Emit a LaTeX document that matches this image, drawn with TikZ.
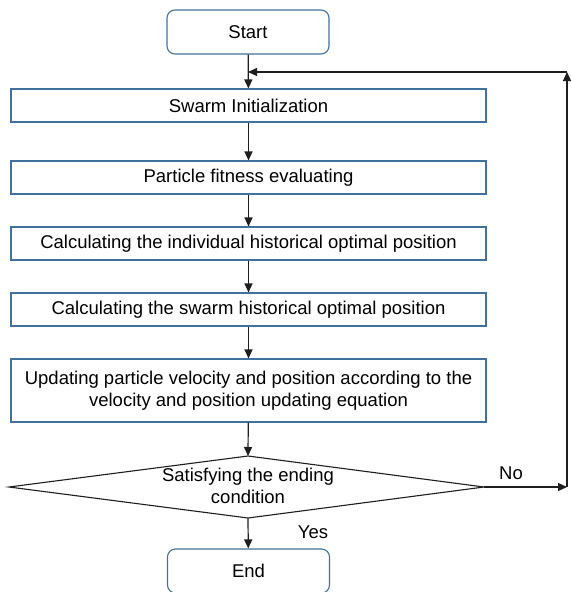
\documentclass[tikz,border=0pt]{standalone}
\usepackage{fontspec}
\setmainfont{Liberation Sans}
\usepackage{tikz}
\usetikzlibrary{shapes.geometric}
\usetikzlibrary{positioning, arrows.meta}
\definecolor{boxline}{RGB}{65,113,156}
\definecolor{flowline}{RGB}{30,30,30}
\tikzset{
  stepbox/.style={draw=boxline, line width=1.1pt, minimum width=475pt, minimum height=33pt,
    inner sep=0pt, align=center, font=\fontsize{18.5}{21.5}\selectfont},
  endbox/.style={stepbox, rounded corners=8pt, minimum width=162pt, minimum height=44pt},
  testtext/.style={inner sep=0pt, align=center, font=\fontsize{18.5}{22}\selectfont},
  flow/.style={draw=flowline, line width=1.2pt, -{Triangle[length=9pt,width=8pt]}}}

\begin{document}
\begin{tikzpicture}[x=1pt, y=-1pt]
\useasboundingbox (0,0) rectangle (572,592);
	\node[endbox] (start) at (248,32) {Start};
	\node[stepbox] (init) at (248.5,105.5) {Swarm Initialization};
	\node[stepbox] (fit) at (248.5,177.5) {Particle fitness evaluating};
	\node[stepbox] (pbest) at (248.5,243.5) {Calculating the individual historical optimal position};
	\node[stepbox] (gbest) at (248.5,309.5) {Calculating the swarm historical optimal position};
	\node[stepbox, minimum height=63pt] (update) at (248.5,390.5) {Updating particle velocity and position according to the\\velocity and position updating equation};
	% decision diamond
	\coordinate (testN) at (248,456);
	\coordinate (testS) at (248,518);
	\coordinate (testW) at (9,487);
	\coordinate (testE) at (484,487);
	\draw[flowline, line width=1.1pt] (testN) -- (testE) -- (testS) -- (testW) -- cycle;
	\node[testtext] (test) at (248,486) {Satisfying the ending\\condition};
	\node[endbox] (end) at (248.5,571) {End};
	\coordinate (noR) at (567,487);
	\coordinate (noT) at (567,72);
	\coordinate (back) at (start.south |- noT);
	\draw[flow] (start) -- (init);
	\draw[flow] (init) -- (fit);
	\draw[flow] (fit) -- (pbest);
	\draw[flow] (pbest) -- (gbest);
	\draw[flow] (gbest) -- (update);
	\draw[flow] (update) -- (testN);
	\draw[flow] (testS) -- (end);
	\draw[flow] (testE) -- (noR);
	\draw[flow] (noR) -- (noT);
	\draw[flow] (noT) -- (back);
	\node[font=\fontsize{18.5}{22}\selectfont] (no) at (511,473) {No};
	\node[font=\fontsize{18.5}{22}\selectfont] (yes) at (313,532) {Yes};
\end{tikzpicture}
\end{document}
